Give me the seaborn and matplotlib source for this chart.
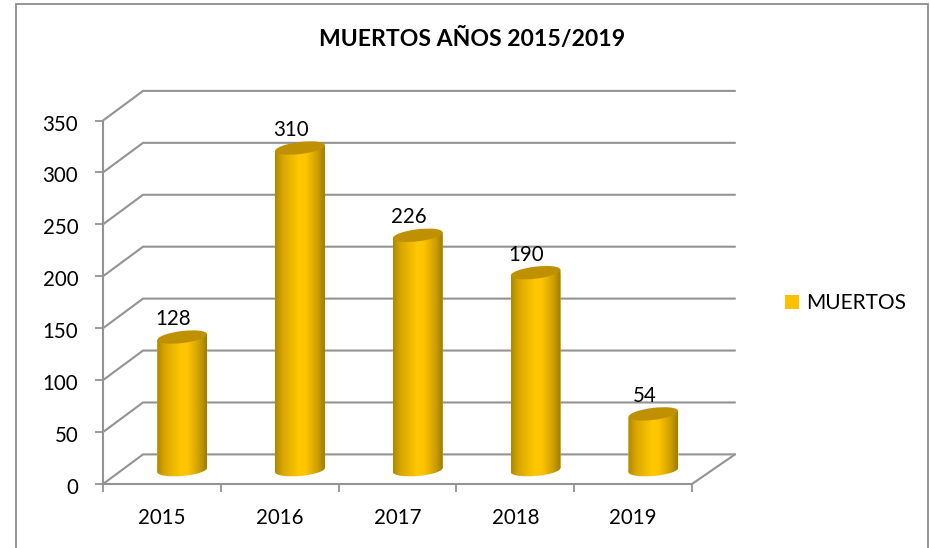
import numpy as np
import pandas as pd
import seaborn as sns
import matplotlib
matplotlib.use("Agg")
import matplotlib.pyplot as plt
from matplotlib.colors import LinearSegmentedColormap
from matplotlib.patches import PathPatch, Rectangle
from matplotlib.path import Path
from matplotlib.transforms import Affine2D, IdentityTransform

years = ["2015", "2016", "2017", "2018", "2019"]
deaths = [128, 310, 226, 190, 54]
y_ticks = [0, 50, 100, 150, 200, 250, 300, 350]
series_name = "MUERTOS"
title = "MUERTOS AÑOS 2015/2019"

GOLD = "#FFC000"
TOP = "#BF9000"
LINE = "#939393"
FONT = ["Lato", "DejaVu Sans"]

sns.set_theme(style="white")
plt.rcParams["font.family"] = FONT

W, H = 930, 548
fig = plt.figure(figsize=(W / 100, H / 100), dpi=100, facecolor="white")
ax = fig.add_axes([103 / W, (H - 484) / H, 589 / W, 363.5 / H])
ax.patch.set_alpha(0)

df = pd.DataFrame({"year": years, "deaths": deaths})
base = 13.5      # floor depth of the bars, in value units
shift = 0.172    # bars stand deeper than the category centre
sns.barplot(data=df, x="year", y="deaths", ax=ax, color=GOLD, width=0.424,
            saturation=1, bottom=base, zorder=3, errorbar=None)
ax.set_xlim(-0.5, 4.5)
ax.set_ylim(0, 350)
ax.set_xlabel("")
ax.set_ylabel("")

# 3D walls, expressed as an offset from the front axes
dx, dy = 0.34, 28.5
xr = 4.865
for t in y_ticks:
    ax.plot([-0.5, -0.5 + dx, xr], [t, t + dy, t + dy], color=LINE, lw=1.5,
            clip_on=False, zorder=1, solid_joinstyle="miter")
ax.plot([4.5, xr], [0, dy], color=LINE, lw=1.5, clip_on=False, zorder=1)

for s in ("top", "right"):
    ax.spines[s].set_visible(False)
for s in ("left", "bottom"):
    ax.spines[s].set_color(LINE)
    ax.spines[s].set_linewidth(1.5)
    ax.spines[s].set_zorder(2)
ax.set_yticks(y_ticks)
ax.tick_params(axis="y", left=True, length=5.8, width=1.3, color=LINE, pad=12,
               labelsize=14.8, labelcolor="black")
ax.set_xticks(range(5), years)
ax.tick_params(axis="x", which="major", bottom=False, length=0, pad=17.5,
               labelsize=14.8, labelcolor="black")
ax.set_xticks(np.arange(-0.5, 5, 1), minor=True)
ax.tick_params(axis="x", which="minor", bottom=True, length=5.8, width=1.3, color=LINE)
for lab in ax.get_yticklabels():
    lab.set_transform(lab.get_transform() + Affine2D().translate(0, -2))

cmap = LinearSegmentedColormap.from_list(
    "cyl", [(0, "#B08800"), (0.15, "#D8A600"), (0.48, "#FFC800"),
            (0.62, "#FFC400"), (0.85, "#CDA000"), (1, "#A07C00")])
grad = cmap(np.linspace(0, 1, 128))[None, :, :3]
to_px = ax.transData.transform
tilt = 7
tilt_bot = 5
for bar, v in zip(ax.patches, deaths):
    bar.set_x(bar.get_x() + shift)
    l, r = bar.get_x(), bar.get_x() + bar.get_width()
    c = (l + r) / 2
    y0, y1 = base, base + v
    (pl, py0), (pr, py1) = to_px((l, y0)), to_px((r, y1))
    pc = (pl + pr) / 2
    rx, ry = (pr - pl) / 2, 6.0
    rise = rx * np.tan(np.radians(tilt))
    rise0 = rx * np.tan(np.radians(tilt_bot))
    body = Path([(pl, py0 - rise0), (pr, py0 + rise0), (pr, py1 + rise),
                 (pl, py1 - rise), (pl, py0 - rise0)])
    bar.set_clip_path(body, IdentityTransform())
    im = ax.imshow(grad, extent=(l, r, y0 - 8, y1 + 6), aspect="auto", zorder=3.1)
    im.set_clip_path(body, IdentityTransform())
    bot_t = Affine2D().scale(rx, ry).rotate_deg(tilt_bot).translate(pc, py0)
    im2 = ax.imshow(grad, extent=(l, r, y0 - 10, y0 + 10), aspect="auto", zorder=3.05)
    im2.set_clip_path(Path.unit_circle(), bot_t)
    top_t = Affine2D().scale(rx, ry).rotate_deg(tilt).translate(pc, py1)
    ax.add_patch(PathPatch(Path.unit_circle(), transform=top_t, facecolor=TOP,
                           edgecolor="none", zorder=3.2, clip_on=False))
    ax.annotate(f"{v}", xy=(c, y1), xytext=(-6.5, 13), textcoords="offset points",
                ha="center", va="center", fontsize=14.8, color="black", zorder=4)
ax.set_xlim(-0.5, 4.5)
ax.set_ylim(0, 350)

fig.suptitle(title, x=472 / W, y=1 - 39 / H, ha="center", va="center",
             fontsize=16.6, fontweight="bold", color="black")

handle = Rectangle((0, 0), 1, 1, facecolor=GOLD, edgecolor="none")
fig.legend([handle], [series_name], loc="center left",
           bbox_to_anchor=(779 / W, 1 - 303 / H), frameon=False, fontsize=15,
           handlelength=0.68, handleheight=0.68, handletextpad=0.33,
           labelcolor="black", borderaxespad=0, borderpad=0.3)

fig.add_artist(Rectangle((16 / W, -0.02), (928 - 16) / W, 1.02 - 3.5 / H,
                         transform=fig.transFigure, fill=False,
                         edgecolor="#8C8C8C", linewidth=1.3))

fig.savefig("out.png", dpi=100, facecolor="white")
